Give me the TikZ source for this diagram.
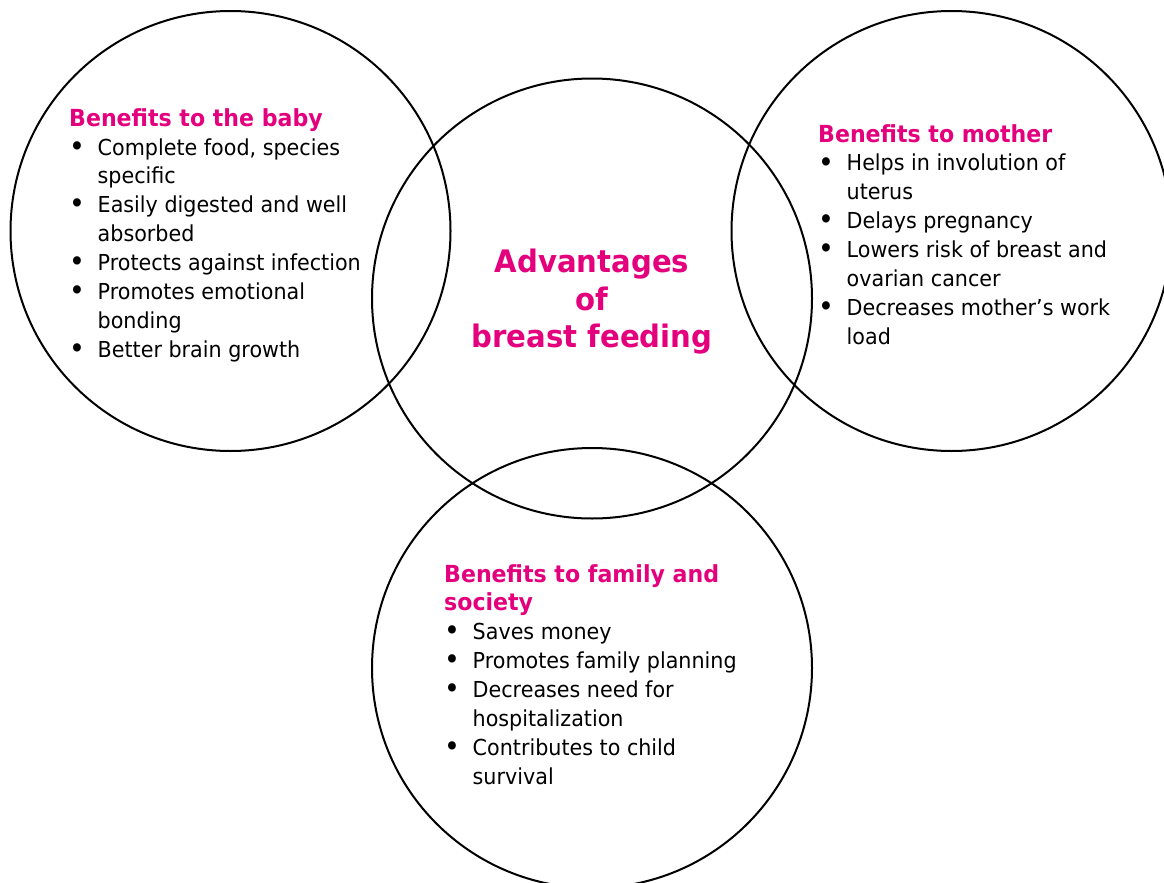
\documentclass[tikz,border=0pt]{standalone}
\usepackage{fontspec}
\setmainfont[FakeStretch=0.94]{DejaVu Sans}
\definecolor{pinkhead}{RGB}{228,0,124}
\tikzset{
  ring/.style={circle, draw=black, line width=2pt, minimum size=440pt, inner sep=0pt},
  block/.style={anchor=base west, align=left, inner sep=0pt, font=\fontsize{22}{28.85}\selectfont},
  centretitle/.style={anchor=base, align=center, inner sep=0pt, text=pinkhead, font=\fontsize{31}{37.5}\selectfont\bfseries},
}
\newcommand{\hd}[1]{{\fontsize{23.5}{28.85}\selectfont\bfseries\color{pinkhead}#1}}
\newcommand{\bul}{\makebox[28.5pt][l]{\raisebox{-1.2pt}{\scalebox{1.3}{•}}}}
\newcommand{\cont}{\hspace*{28.5pt}}
\begin{document}
\begin{tikzpicture}[x=1pt,y=-1pt]
\useasboundingbox (0,0) rectangle (1164,883);
\clip (0,0) rectangle (1164,883);
\node[ring] (baby) at (230.5,231) {};
\node[ring] (centre) at (592,298.5) {};
\node[ring] (mother) at (951.5,231) {};
\node[ring] (family) at (592,668) {};

\node[block] (babytext) at (69,357) {\hd{Benefits to the baby}\\
\bul Complete food, species\\
\cont specific\\
\bul Easily digested and well\\
\cont absorbed\\
\bul Protects against infection\\
\bul Promotes emotional\\
\cont bonding\\
\bul Better brain growth};

\node[block] (mothertext) at (818,344) {\hd{Benefits to mother}\\
\bul Helps in involution of\\
\cont uterus\\
\bul Delays pregnancy\\
\bul Lowers risk of breast and\\
\cont ovarian cancer\\
\bul Decreases mother’s work\\
\cont load};

\node[block] (familytext) at (444,784) {\hd{Benefits to family and}\\
\hd{society}\\
\bul Saves money\\
\bul Promotes family planning\\
\bul Decreases need for\\
\cont hospitalization\\
\bul Contributes to child\\
\cont survival};

\node[centretitle] (title) at (592,347.5) {Advantages\\ of\\ breast feeding};
\end{tikzpicture}
\end{document}
